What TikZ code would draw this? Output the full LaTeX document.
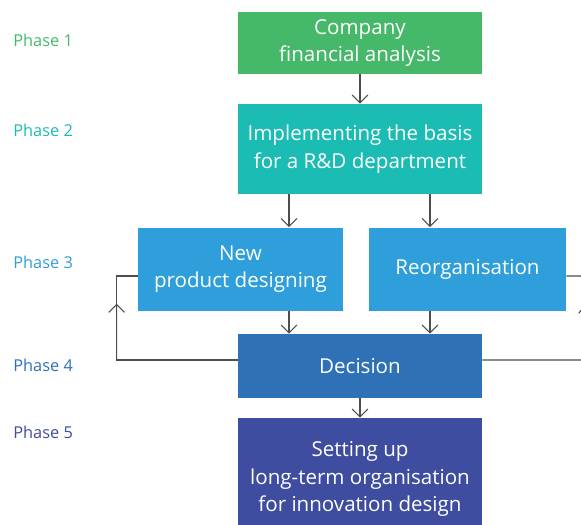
\documentclass[tikz,border=0pt]{standalone}
\usepackage{fontspec}
\setmainfont{Open Sans}
\usetikzlibrary{arrows.meta,calc}

\definecolor{phaseone}{HTML}{45B86A}
\definecolor{phasetwo}{HTML}{1BBCB3}
\definecolor{phasethree}{HTML}{2E9FDA}
\definecolor{phasefour}{HTML}{2F71B7}
\definecolor{phasefive}{HTML}{3E4DA0}
\definecolor{linegray}{HTML}{4D4D4D}

\tikzset{
  box/.style={fill=#1, text=white, inner sep=0pt, align=center,
    font=\fontsize{11.7}{15.6}\selectfont},
  phase/.style={text=#1, anchor=west, inner sep=0pt,
    font=\fontsize{9.3}{11}\selectfont},
  link/.style={draw=linegray, line width=0.6pt},
  arr/.style={link, -{Straight Barb[length=4.5pt,width=9pt]}}
}

\begin{document}
\begin{tikzpicture}
      \useasboundingbox (0,0) rectangle (11.62,-10.5);
      \clip (0,0) rectangle (11.62,-10.5);
      % phase labels
      \node[phase=phaseone] (p1) at (0.26,-0.8) {Phase 1};
      \node[phase=phasetwo] (p2) at (0.26,-2.6) {Phase 2};
      \node[phase=phasethree] (p3) at (0.26,-5.24) {Phase 3};
      \node[phase=phasefour] (p4) at (0.26,-7.3) {Phase 4};
      \node[phase=phasefive] (p5) at (0.26,-8.64) {Phase 5};
      % boxes
      \node[box=phaseone, minimum width=4.88cm, minimum height=1.24cm] (comp) at (7.2,-0.86) {Company\\financial analysis};
      \node[box=phasetwo, minimum width=4.88cm, minimum height=1.8cm] (impl) at (7.2,-2.98) {Implementing the basis\\for a R\&D department};
      \node[box=phasethree, minimum width=4.1cm, minimum height=1.66cm] (np) at (4.81,-5.38) {New\\product designing};
      \node[box=phasethree, minimum width=3.94cm, minimum height=1.66cm] (reorg) at (9.35,-5.38) {Reorganisation};
      \node[box=phasefour, minimum width=4.88cm, minimum height=1.28cm] (dec) at (7.2,-7.32) {Decision};
      \node[box=phasefive, minimum width=4.88cm, minimum height=2.44cm] (setup) at (7.2,-9.58) {Setting up\\long-term organisation\\for innovation design};
      % connectors
      \coordinate (xl) at (5.78,0);
      \coordinate (xr) at (8.6,0);
      \draw[arr] (comp) -- (impl);
      \draw[arr] (impl.south -| xl) -- (np.north -| xl);
      \draw[arr] (impl.south -| xr) -- (np.north -| xr);
      \draw[arr] (np.south -| xl) -- (dec.north -| xl);
      \draw[arr] (reorg.south -| xr) -- (dec.north -| xr);
      \draw[arr] (dec) -- (setup);
      % feedback loops
      \coordinate (lb) at ($(dec.west)+(-2.42,0.12)$);
      \coordinate (lt) at ($(np.west)+(-0.42,-0.14)$);
      \draw[link] ($(dec.west)+(0,0.12)$) -- (lb) -- (lt) -- (np.west |- lt);
      \draw[arr] (lb) -- ($(lb)!0.67!(lt)$);
      \coordinate (rb) at ($(dec.east)+(2.22,0.12)$);
      \coordinate (rt) at ($(reorg.east)+(0.3,-0.14)$);
      \draw[link] ($(dec.east)+(0,0.12)$) -- (rb) -- (rt) -- (reorg.east |- rt);
      \draw[arr] (rb) -- ($(rb)!0.67!(rt)$);
\end{tikzpicture}
\end{document}
